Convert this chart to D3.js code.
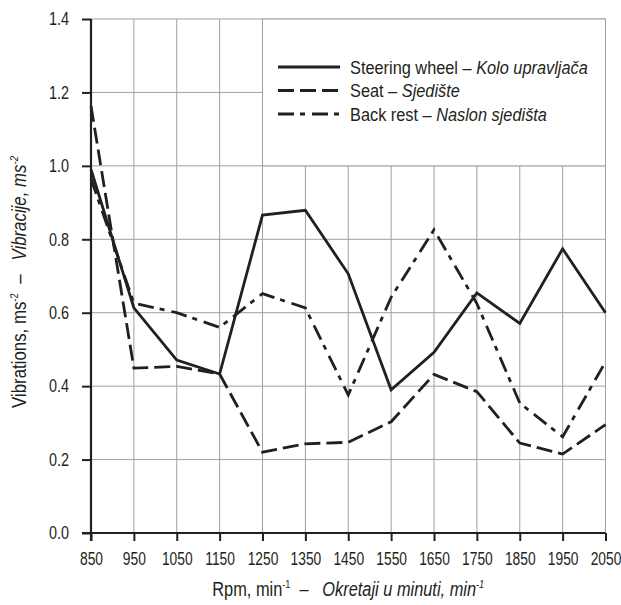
<!DOCTYPE html>
<html>
<head>
<meta charset="utf-8">
<script src="https://cdn.jsdelivr.net/npm/d3@7"></script>
<style>
  html, body { margin: 0; padding: 0; background: #fff; }
  svg text { font-family: "Liberation Sans", Arial, Helvetica, sans-serif; fill: #231f20; }
</style>
</head>
<body>
<svg id="chart" width="621" height="605"></svg>
<script>
const rpm = [850, 950, 1050, 1150, 1250, 1350, 1450, 1550, 1650, 1750, 1850, 1950, 2050];
const steeringWheel = [0.99, 0.613, 0.471, 0.433, 0.866, 0.879, 0.706, 0.39, 0.492, 0.654, 0.571, 0.774, 0.60];
const seat = [1.163, 0.449, 0.454, 0.433, 0.22, 0.243, 0.247, 0.303, 0.432, 0.385, 0.245, 0.215, 0.295];
const backRest = [0.965, 0.626, 0.600, 0.560, 0.652, 0.613, 0.376, 0.642, 0.826, 0.625, 0.354, 0.262, 0.466];
const yTicks = [0.0, 0.2, 0.4, 0.6, 0.8, 1.0, 1.2, 1.4];
const seriesNames = [
  ["Steering wheel \u2013 ", "Kolo upravlja\u010da"],
  ["Seat \u2013 ", "Sjedi\u0161te"],
  ["Back rest \u2013 ", "Naslon sjedi\u0161ta"]
];

const series = [
  { values: steeringWheel, dash: null },
  { values: seat, dash: "16,6" },
  { values: backRest, dash: "16,6,5,7" }
];

const svg = d3.select("#chart");
const mL = 91, mR = 605.5, mT = 19, mB = 533;
const x = d3.scaleLinear().domain([850, 2050]).range([mL, mR]);
const y = d3.scaleLinear().domain([0, 1.4]).range([mB, mT]);
const ink = "#231f20";
const gridC = "#a0a0a0";

// gridlines
svg.append("g").selectAll("line").data(rpm.slice(1)).join("line")
  .attr("x1", d => x(d)).attr("x2", d => x(d))
  .attr("y1", y(0)).attr("y2", y(1.4))
  .attr("stroke", gridC).attr("stroke-width", 1);
svg.append("g").selectAll("line").data(yTicks.slice(1)).join("line")
  .attr("x1", x(850)).attr("x2", x(2050))
  .attr("y1", d => y(d)).attr("y2", d => y(d))
  .attr("stroke", gridC).attr("stroke-width", 1);

// legend box (white, covers gridlines)
svg.append("rect")
  .attr("x", x(1250)).attr("y", y(1.4))
  .attr("width", x(2050) - x(1250)).attr("height", y(1.0) - y(1.4))
  .attr("fill", "#fff").attr("stroke", gridC).attr("stroke-width", 1);

// lines
const line = d3.line().x((d, i) => x(rpm[i])).y(d => y(d));
series.forEach(s => {
  svg.append("path").datum(s.values)
    .attr("d", line)
    .attr("fill", "none")
    .attr("stroke", ink)
    .attr("stroke-width", 2.8)
    .attr("stroke-linejoin", "miter")
    .attr("stroke-dasharray", s.dash);
});

// axes
const xAxis = d3.axisBottom(x).tickValues(rpm).tickSize(8).tickSizeOuter(0).tickFormat(d3.format("d"));
const yAxis = d3.axisLeft(y).tickValues(yTicks).tickSize(9).tickSizeOuter(0).tickFormat(d3.format(".1f"));

const gx = svg.append("g").attr("transform", `translate(0,${mB})`).call(xAxis);
gx.select(".domain").attr("stroke", ink).attr("stroke-width", 2.2).attr("d", `M${mL - 9},0H${mR}`);
gx.selectAll(".tick line").attr("stroke", ink).attr("stroke-width", 2);
gx.selectAll(".tick text").attr("font-size", 17.5).attr("font-family", null).attr("fill", ink)
  .attr("y", 20).attr("transform", "scale(0.79,1)");

const gy = svg.append("g").attr("transform", `translate(${mL},0)`).call(yAxis);
gy.select(".domain").attr("stroke", ink).attr("stroke-width", 2.2).attr("d", `M0,${mB + 8}V${mT}`);
gy.selectAll(".tick line").attr("stroke", ink).attr("stroke-width", 2);
gy.selectAll(".tick text").attr("font-size", 18).attr("font-family", null).attr("fill", ink)
  .attr("x", -22 / 0.8).attr("transform", "scale(0.8,1)");

// legend
const lg = svg.append("g");
const legTexts = [];
seriesNames.forEach((nm, i) => {
  const ly = 67 + i * 23.5;
  lg.append("line").attr("x1", 278).attr("x2", 340).attr("y1", ly).attr("y2", ly)
    .attr("stroke", ink).attr("stroke-width", 3.2).attr("stroke-dasharray", series[i].dash);
  const t = lg.append("text").attr("font-size", 18.5).attr("data-y", ly + 6.5);
  t.append("tspan").text(nm[0]);
  t.append("tspan").attr("font-style", "italic").text(nm[1]);
  legTexts.push(t);
});
const legSx = 238 / legTexts[0].node().getComputedTextLength();
legTexts.forEach(t => t.attr("transform", `translate(350,${t.attr("data-y")}) scale(${legSx},1)`));

// x title
const xt = svg.append("text").attr("text-anchor", "middle").attr("font-size", 19.5);
xt.append("tspan").text("Rpm, min");
xt.append("tspan").attr("font-size", 11).attr("dy", -8).text("-1");
xt.append("tspan").attr("dy", 8).text("\u00a0\u00a0\u2013\u00a0\u00a0\u00a0");
xt.append("tspan").attr("font-style", "italic").text("Okretaji u minuti, min");
xt.append("tspan").attr("font-style", "italic").attr("font-size", 11).attr("dy", -8).text("-1");
const xtSx = 272 / xt.node().getComputedTextLength();
xt.attr("transform", `translate(${(mL + mR) / 2},596) scale(${xtSx},1)`);

// y title
const yt = svg.append("text").attr("text-anchor", "middle").attr("font-size", 19.5);
yt.append("tspan").text("Vibrations, ms");
yt.append("tspan").attr("font-size", 11).attr("dy", -8).text("-2");
yt.append("tspan").attr("dy", 8).text("\u00a0\u00a0\u2013\u00a0\u00a0\u00a0");
yt.append("tspan").attr("font-style", "italic").text("Vibracije, ms");
yt.append("tspan").attr("font-style", "italic").attr("font-size", 11).attr("dy", -8).text("-2");
const ytSx = 252 / yt.node().getComputedTextLength();
yt.attr("transform", `translate(26,282) rotate(-90) scale(${ytSx},1)`);
</script>
</body>
</html>
